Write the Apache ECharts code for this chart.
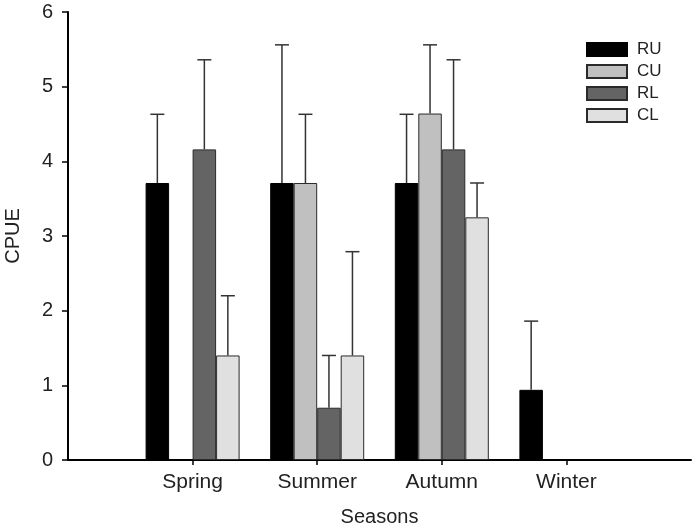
<!DOCTYPE html>
<html>
<head>
<meta charset="utf-8">
<script src="https://cdn.jsdelivr.net/npm/echarts@6/dist/echarts.min.js"></script>
<style>
  html, body { margin: 0; padding: 0; background: #fff; }
  #chart { width: 696px; height: 528px; }
</style>
</head>
<body>
<div id="chart"></div>
<script>
var seasons = ['Spring', 'Summer', 'Autumn', 'Winter'];
var groups = ['RU', 'CU', 'RL', 'CL'];
// means
var ru = [3.71, 3.71, 3.71, 0.94];
var cu = [null, 3.71, 4.64, null];
var rl = [4.16, 0.70, 4.16, null];
var cl = [1.40, 1.40, 3.25, null];
// upper error (sd)
var ruErr = [0.92, 1.85, 0.92, 0.92];
var cuErr = [null, 0.92, 0.92, null];
var rlErr = [1.20, 0.70, 1.20, null];
var clErr = [0.80, 1.39, 0.46, null];
var yTicks = [0, 1, 2, 3, 4, 5, 6];

var colors = ['#000000', '#c0c0c0', '#646464', '#e0e0e0'];
var means = [ru, cu, rl, cl];
var errs = [ruErr, cuErr, rlErr, clErr];
var barW = 23.5;
var font = '"Liberation Sans", Arial, sans-serif';

// padded categories so ticks sit between plot edges
var cats = [''].concat(seasons, ['']);

var series = groups.map(function (name, k) {
  return {
    name: name,
    type: 'bar',
    barWidth: barW,
    barGap: '0%',
    itemStyle: { color: colors[k], borderColor: k === 0 ? '#000' : '#2a2a2a', borderWidth: 1 },
    data: [null].concat(means[k], [null]),
    z: 2
  };
});

var errData = [];
groups.forEach(function (name, k) {
  means[k].forEach(function (m, i) {
    if (m != null && errs[k][i] != null) {
      errData.push([i + 1, m, m + errs[k][i], k - 1.5]);
    }
  });
});

series.push({
  type: 'custom',
  data: errData,
  z: 3,
  silent: true,
  renderItem: function (params, api) {
    var base = api.coord([api.value(0), api.value(1)]);
    var top = api.coord([api.value(0), api.value(2)]);
    var cx = base[0] + api.value(3) * barW;
    var st = { stroke: '#333', lineWidth: 1.5 };
    return {
      type: 'group',
      children: [
        { type: 'line', shape: { x1: cx, y1: base[1], x2: cx, y2: top[1] }, style: st },
        { type: 'line', shape: { x1: cx - 7, y1: top[1], x2: cx + 7, y2: top[1] }, style: st }
      ]
    };
  }
});

var chart = echarts.init(document.getElementById('chart'));
chart.setOption({
  backgroundColor: '#fff',
  animation: false,
  textStyle: { fontFamily: font },
  grid: { left: 68, right: 5, top: 12, bottom: 68, outerBoundsMode: 'none', containLabel: false },
  legend: {
    data: groups,
    orient: 'vertical',
    left: 586,
    top: 41,
    padding: 0,
    icon: 'rect',
    itemWidth: 40,
    itemHeight: 13,
    itemGap: 5,
    textStyle: { fontSize: 17, color: '#222', fontFamily: font, padding: [0, 0, 0, 5] }
  },
  xAxis: {
    type: 'category',
    data: cats,
    boundaryGap: false,
    name: 'Seasons',
    nameLocation: 'middle',
    nameGap: 47,
    nameTextStyle: { fontSize: 20, color: '#222', fontFamily: font },
    axisLine: { lineStyle: { color: '#000', width: 2 } },
    axisTick: {
      length: 5,
      lineStyle: { color: '#000', width: 1.5 },
      interval: function (i) { return i > 0 && i < cats.length - 1; }
    },
    axisLabel: { fontSize: 21, color: '#222', margin: 12, interval: 0, fontFamily: font },
    splitLine: { show: false }
  },
  yAxis: {
    type: 'value',
    min: yTicks[0],
    max: yTicks[yTicks.length - 1],
    interval: 1,
    name: 'CPUE',
    nameLocation: 'middle',
    nameRotate: 90,
    nameGap: 45,
    nameTextStyle: { fontSize: 20, color: '#222', fontFamily: font },
    axisLine: { show: true, lineStyle: { color: '#000', width: 2 } },
    axisTick: { show: true, length: 6, lineStyle: { color: '#000', width: 1.5 } },
    axisLabel: { fontSize: 20, color: '#222', margin: 15, fontFamily: font },
    splitLine: { show: false }
  },
  series: series
});
</script>
</body>
</html>
